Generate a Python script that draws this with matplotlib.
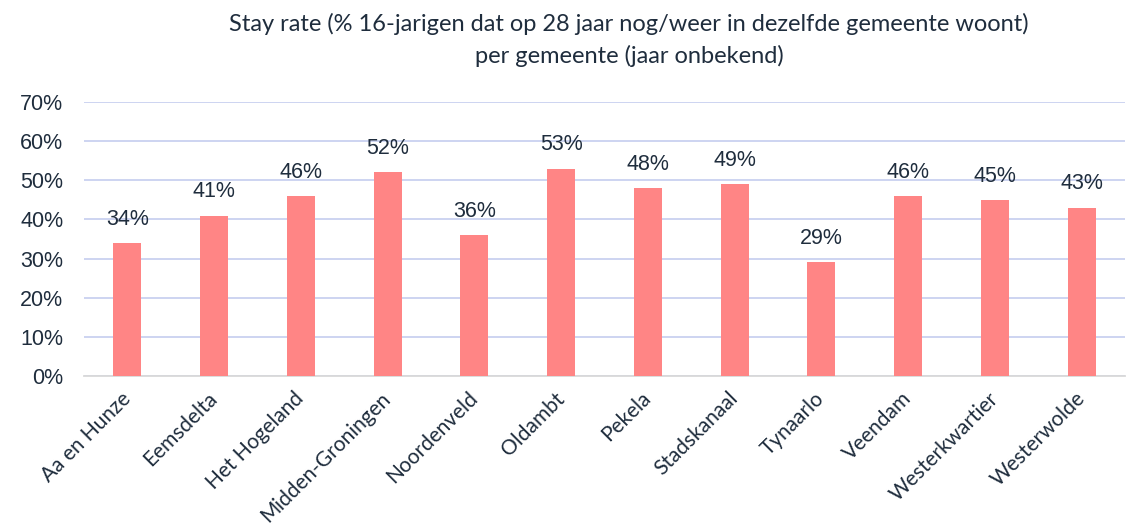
import matplotlib
matplotlib.use("Agg")
import matplotlib.pyplot as plt
from matplotlib.ticker import PercentFormatter

categories = ["Aa en Hunze", "Eemsdelta", "Het Hogeland", "Midden-Groningen",
              "Noordenveld", "Oldambt", "Pekela", "Stadskanaal", "Tynaarlo",
              "Veendam", "Westerkwartier", "Westerwolde"]
values = [34, 41, 46, 52, 36, 53, 48, 49, 29, 46, 45, 43]
title = "Stay rate (% 16-jarigen dat op 28 jaar nog/weer in dezelfde gemeente woont)\nper gemeente (jaar onbekend)"

text_color = "#1F2D3D"
bar_color = "#FF8585"
grid_color = "#C9D1F0"

fig = plt.figure(figsize=(11.33, 5.31), dpi=100)
ax = fig.add_axes([84/1133, 1-376/531, (1125-84)/1133, (376-102)/531])

x = range(len(categories))
bars = ax.bar(x, values, width=0.32, color=bar_color, zorder=3)
for xi, v in zip(x, values):
    ax.annotate(f"{v}%", (xi, v), xytext=(0, 9.5), textcoords="offset points",
                ha="center", va="bottom", fontsize=15.5, color=text_color,
                family="Liberation Sans")

ax.set_ylim(0, 70)
ax.set_xlim(-0.5, len(categories) - 0.5)
ax.set_yticks(range(0, 71, 10))
ax.yaxis.set_major_formatter(PercentFormatter(decimals=0))
ax.grid(axis="y", color=grid_color, linewidth=1.3, zorder=0)
for s in ["top", "right", "left"]:
    ax.spines[s].set_visible(False)
ax.spines["bottom"].set_color("#D9D9D9")
ax.spines["bottom"].set_linewidth(1.3)
ax.tick_params(axis="both", length=0, colors=text_color)
ax.tick_params(axis="y", labelsize=15.5, pad=15)
for lbl in ax.get_yticklabels():
    lbl.set_family("Liberation Sans")
ax.set_xticks(list(x))
ax.set_xticklabels(categories, rotation=45, ha="right", va="center",
                   rotation_mode="anchor",
                   fontsize=15, color=text_color, family="Lato")
ax.tick_params(axis="x", pad=14)

fig.text(629/1133, 1-40/531, title, ha="center", va="center", fontsize=17,
         color=text_color, family="Lato", linespacing=1.5)

fig.savefig("out.png", dpi=100, facecolor="white")
